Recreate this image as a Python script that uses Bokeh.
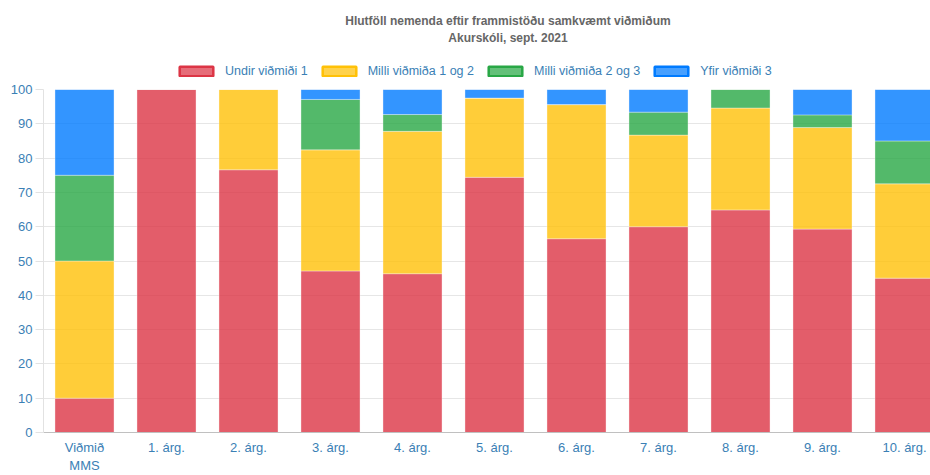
from bokeh.plotting import figure
from bokeh.layouts import column
from bokeh.models import (ColumnDataSource, Range1d, FixedTicker, Legend, LegendItem, Label, LinearAxis)
from bokeh.embed import file_html
from bokeh.resources import INLINE

# ---- data -----------------------------------------------------------------
categories = ["Viðmið", "1. árg.", "2. árg.", "3. árg.", "4. árg.", "5. árg.",
              "6. árg.", "7. árg.", "8. árg.", "9. árg.", "10. árg."]
categories_line2 = ["MMS", "", "", "", "", "", "", "", "", "", ""]
undir_1 = [10.0, 100.0, 76.6, 47.1, 46.3, 74.4, 56.5, 60.0, 64.9, 59.3, 45.0]
milli_1_2 = [40.0, 0.0, 23.4, 35.3, 41.5, 23.1, 39.1, 26.7, 29.7, 29.6, 27.5]
milli_2_3 = [25.0, 0.0, 0.0, 14.7, 4.9, 0.0, 0.0, 6.7, 5.4, 3.7, 12.5]
yfir_3 = [25.0, 0.0, 0.0, 2.9, 7.3, 2.6, 4.4, 6.6, 0.0, 7.4, 15.0]
series_names = ["Undir viðmiði 1", "Milli viðmiða 1 og 2", "Milli viðmiða 2 og 3", "Yfir viðmiði 3"]
y_ticks = [0, 10, 20, 30, 40, 50, 60, 70, 80, 90, 100]
title_line_1 = "Hlutföll nemenda eftir frammistöðu samkvæmt viðmiðum"
title_line_2 = "Akurskóli, sept. 2021"

# ---- style ----------------------------------------------------------------
FONT = "Liberation Sans"
TEXT_BLUE = "#3a80b5"
fill_colors = ["#dc3545", "#ffc107", "#28a745", "#007bff"]
W = 930
HEAD_H = 80
MAIN_H = 395

x = list(range(len(categories)))
stack = ["s0", "s1", "s2", "s3"]
src = ColumnDataSource(dict(x=x, s0=undir_1, s1=milli_1_2, s2=milli_2_3, s3=yfir_3))

# ---- header: title + legend -------------------------------------------------
head = figure(width=W, height=HEAD_H, output_backend="svg", toolbar_location=None,
              x_range=Range1d(0, W), y_range=Range1d(HEAD_H, 0),
              x_axis_location=None, y_axis_location=None, title_location=None,
              min_border=0, min_border_left=0, min_border_right=0,
              min_border_top=0, min_border_bottom=0, outline_line_color=None)
head.xgrid.grid_line_color = None
head.ygrid.grid_line_color = None

for txt, ty in ((title_line_1, 20), (title_line_2, 37)):
    head.add_layout(Label(x=487, y=ty, text=txt, text_align="center",
                          text_baseline="middle", text_font=FONT,
                          text_font_size="12px", text_font_style="bold",
                          text_color="#666666"))

items = []
for name, col, key in zip(series_names, fill_colors, stack):
    proxy = head.vbar(x="x", top=key, width=0.72, source=src, fill_color=col,
                      fill_alpha=0.72, line_color=col, line_width=2.5, visible=False)
    items.append(LegendItem(label=name, renderers=[proxy]))

legend = Legend(items=items, orientation="horizontal", location=(132, 2),
                label_text_font=FONT, label_text_font_size="12.5px",
                label_text_color=TEXT_BLUE, glyph_width=42, glyph_height=12,
                label_height=12, label_standoff=8, spacing=10, padding=0, margin=0,
                background_fill_alpha=0, border_line_alpha=0,
                inactive_fill_alpha=0)
head.add_layout(legend)

# ---- main chart -------------------------------------------------------------
p = figure(width=W, height=MAIN_H, output_backend="svg", toolbar_location=None,
           x_range=Range1d(-0.5, -0.5 + (W - 43) / 82), y_range=Range1d(0, 100),
           title_location=None,
           min_border_left=43, min_border_right=0, min_border_bottom=38,
           min_border_top=9, outline_line_color=None)

p.vbar_stack(stack, x="x", width=0.72, source=src,
             fill_color=fill_colors, fill_alpha=0.8,
             line_color="white", line_alpha=0.35, line_width=1)

p.xaxis.ticker = FixedTicker(ticks=x)
p.xaxis.major_label_overrides = {i: c for i, c in enumerate(categories)}
p.xaxis.major_label_text_font = FONT
p.xaxis.major_label_text_font_size = "13px"
p.xaxis.major_label_text_color = TEXT_BLUE
p.xaxis.major_tick_line_color = None
p.xaxis.major_tick_out = 0
p.xaxis.major_tick_in = 0
p.xaxis.minor_tick_line_color = None
p.xaxis.axis_line_color = "#c0c0c0"
p.xaxis.major_label_standoff = 7

ax2 = LinearAxis(ticker=FixedTicker(ticks=x),
                 major_label_overrides={i: c for i, c in enumerate(categories_line2)},
                 major_label_text_font=FONT, major_label_text_font_size="13px",
                 major_label_text_color=TEXT_BLUE, major_tick_line_color=None,
                 major_tick_out=0, major_tick_in=0,
                 minor_tick_line_color=None, axis_line_color=None,
                 major_label_standoff=0)
p.add_layout(ax2, "below")

p.yaxis.ticker = FixedTicker(ticks=y_ticks)
p.yaxis.major_label_text_font = FONT
p.yaxis.major_label_text_font_size = "13px"
p.yaxis.major_label_text_color = TEXT_BLUE
p.yaxis.axis_line_color = "#e2e2e2"
p.yaxis.major_tick_line_color = "#e2e2e2"
p.yaxis.major_tick_out = 8
p.yaxis.major_tick_in = 0
p.yaxis.minor_tick_line_color = None
p.yaxis.major_label_standoff = 3

p.xgrid.grid_line_color = None
p.ygrid.grid_line_color = "#e6e6e6"

layout = column(head, p, spacing=0)
open("out.html", "w").write(file_html(layout, INLINE))
